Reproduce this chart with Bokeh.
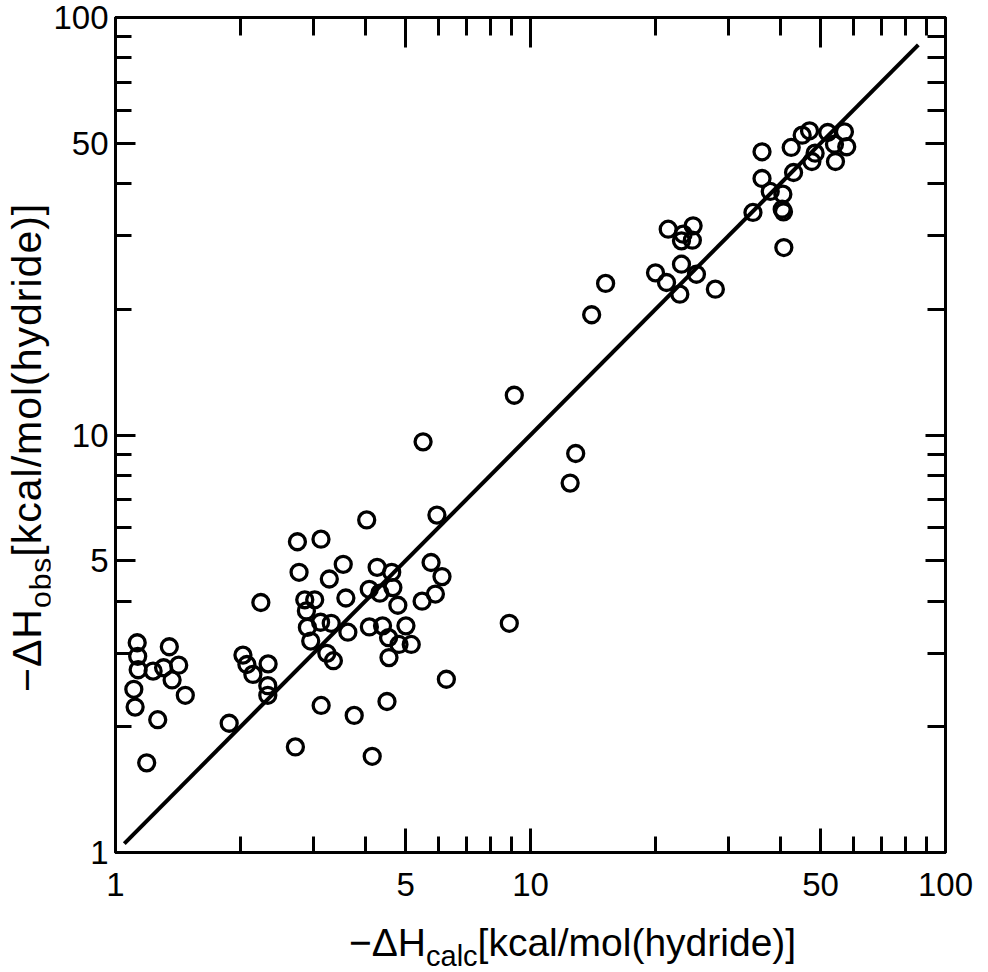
from bokeh.plotting import figure
from bokeh.models import LogAxis, FixedTicker, Div, CustomJSTickFormatter
from bokeh.layouts import row, column
from bokeh.embed import file_html
from bokeh.resources import INLINE

# ---- data ----
dh_calc = [1.128, 1.131, 1.134, 1.232, 1.306, 1.348, 1.420, 1.369, 1.107, 1.115, 1.473, 1.264, 1.189,
           1.879, 2.028, 2.073, 2.143, 2.332, 2.328, 2.328, 2.24,
           2.744, 3.127, 2.769, 3.538, 3.275, 4.27, 4.63, 5.76, 6.12, 2.858, 3.02, 3.59, 4.087, 4.335,
           4.66, 4.79, 5.48, 5.90, 2.884, 2.90, 3.12, 3.31, 2.954, 3.63, 3.23, 3.35, 4.09, 4.40, 4.55,
           5.01, 5.16, 4.82, 4.56, 6.27, 8.89, 3.13, 3.76, 4.51, 2.713, 4.155, 4.03, 5.95,
           9.14, 5.51, 12.85, 12.46,
           14.04, 15.17, 20.01, 21.27, 23.11, 25.11, 22.9, 27.89, 21.47, 23.32, 24.65, 23.11, 24.55,
           34.36, 36.13, 37.82, 40.56, 40.41, 40.7, 40.78, 36.13, 43.04, 42.48, 45.15, 47.03, 48.51,
           47.64, 52.03, 54.01, 57.08, 57.81, 54.31]
dh_obs = [3.18, 2.95, 2.74, 2.72, 2.77, 3.11, 2.81, 2.59, 2.46, 2.23, 2.38, 2.08, 1.64,
          2.04, 2.97, 2.82, 2.67, 2.83, 2.51, 2.38, 3.97,
          5.55, 5.63, 4.69, 4.90, 4.52, 4.82, 4.69, 4.95, 4.58, 4.03, 4.03, 4.07, 4.27, 4.18,
          4.31, 3.91, 4.00, 4.16, 3.79, 3.46, 3.56, 3.54, 3.21, 3.37, 3.00, 2.88, 3.47, 3.49, 3.27,
          3.49, 3.15, 3.15, 2.93, 2.60, 3.54, 2.25, 2.13, 2.30, 1.79, 1.70, 6.26, 6.43,
          12.45, 9.63, 9.03, 7.67,
          19.41, 23.07, 24.46, 23.19, 25.65, 24.27, 21.74, 22.35, 31.11, 30.27, 31.70, 29.18, 29.28,
          34.12, 41.15, 38.31, 37.75, 34.74, 34.24, 28.12, 47.68, 42.54, 48.83, 52.26, 53.54, 47.32,
          45.19, 53.04, 49.73, 53.23, 49.02, 45.19]
fit_line = [1.05, 86.0]

major_ticks = [1, 5, 10, 50, 100]
minor_ticks = [2, 3, 4, 6, 7, 8, 9, 20, 30, 40, 60, 70, 80, 90]

x_title = ("\u2212\u0394H", "calc", "[kcal/mol(hydride)]")
y_title = ("\u2212\u0394H", "obs", "[kcal/mol(hydride)]")

FONT = "Liberation Sans"

p = figure(width=925, height=916, x_axis_type="log", y_axis_type="log",
           x_range=(1, 100), y_range=(1, 100),
           output_backend="svg", toolbar_location=None,
           min_border_left=63, min_border_right=30, min_border_top=17, min_border_bottom=64)
p.grid.visible = False
p.outline_line_color = "black"
p.outline_line_width = 3
p.background_fill_color = "white"
p.border_fill_color = "white"

fmt = CustomJSTickFormatter(code="return tick.toString();")

def style_axis(ax, labels, major_len, minor_len):
    ax.ticker = FixedTicker(ticks=major_ticks, minor_ticks=minor_ticks)
    ax.formatter = fmt
    ax.axis_line_color = "black"
    ax.axis_line_width = 3
    ax.major_tick_line_width = 3
    ax.minor_tick_line_width = 3
    ax.major_tick_in = major_len
    ax.major_tick_out = 0
    ax.minor_tick_in = minor_len
    ax.minor_tick_out = 0
    ax.major_label_text_font = FONT
    ax.major_label_text_font_size = "33px"
    ax.major_label_text_color = "black"
    if not labels:
        ax.major_label_text_font_size = "0px"
        ax.major_label_text_alpha = 0

style_axis(p.xaxis[0], True, 24, 16)
p.xaxis[0].major_label_standoff = 20
style_axis(p.yaxis[0], True, 20, 16)
p.yaxis[0].major_label_standoff = 7

top = LogAxis()
style_axis(top, False, 30, 18)
p.add_layout(top, "above")
right = LogAxis()
style_axis(right, False, 20, 18)
p.add_layout(right, "right")

p.line(fit_line, fit_line, line_color="black", line_width=4)
p.scatter(dh_calc, dh_obs, size=16, marker="circle", fill_color=None,
          line_color="black", line_width=3.3)

# axis titles as HTML (for subscripts)
xhtml = ("<div style=\"position:relative;top:7px;font-family:'Liberation Sans',sans-serif;font-size:39px;color:black;"
         "white-space:nowrap;padding-left:349px;line-height:40px;\">"
         f"{x_title[0]}<span style=\"font-size:29px;position:relative;top:10px;\">{x_title[1]}</span>"
         f"{x_title[2]}</div>")
yhtml = ("<div style=\"position:absolute;left:0;top:0;transform-origin:0 0;"
         "transform:translate(6px,692px) rotate(-90deg);"
         "font-family:'Liberation Sans',sans-serif;font-size:41px;color:black;letter-spacing:1px;"
         "white-space:nowrap;line-height:42px;\">"
         f"{y_title[0]}<span style=\"font-size:30px;position:relative;top:10px;\">{y_title[1]}</span>"
         f"{y_title[2]}</div>")

xdiv = Div(text=xhtml, width=975, height=40, margin=(0, 0, 0, 0))
ydiv = Div(text=yhtml, width=50, height=916, margin=(0, 0, 0, 0))

layout = column(row(ydiv, p, spacing=0), xdiv, spacing=0)

open("out.html", "w").write(file_html(layout, INLINE))
